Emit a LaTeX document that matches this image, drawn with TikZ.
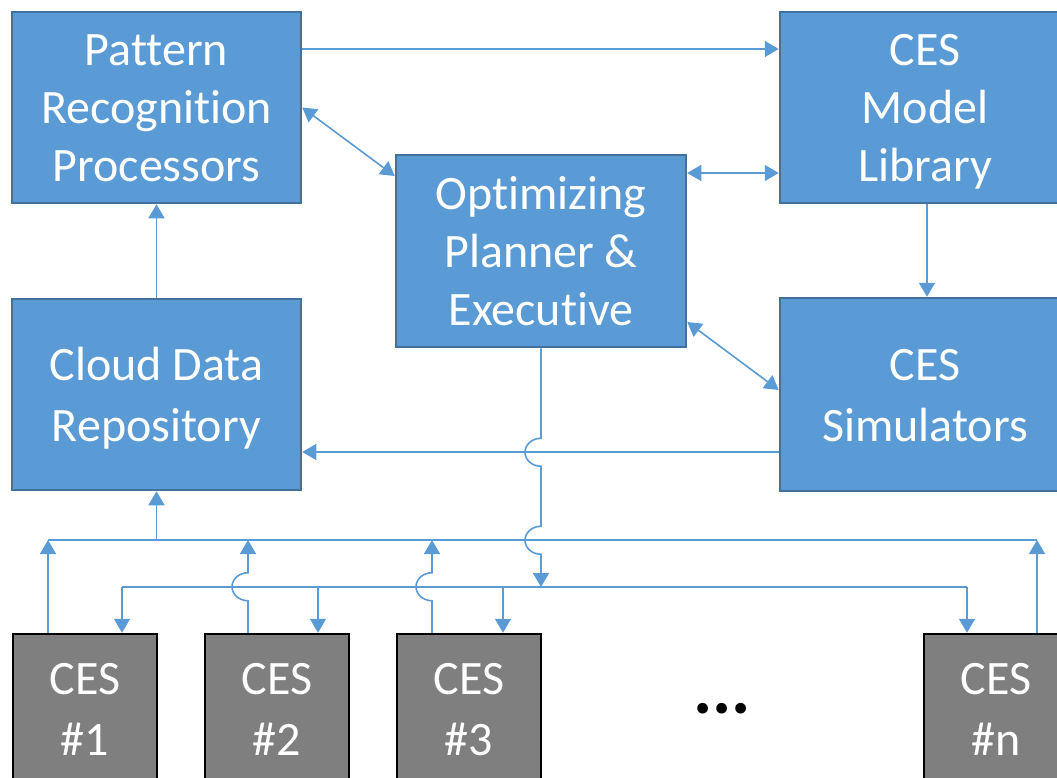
\documentclass[tikz,border=0pt]{standalone}
\usepackage{fontspec}
\setmainfont{Carlito}[Ligatures={NoCommon,NoContextual}]
\usetikzlibrary{arrows.meta}
\definecolor{boxblue}{HTML}{5B9BD5}
\definecolor{boxedge}{HTML}{41719C}
\definecolor{linkblue}{HTML}{5B9BD5}
\definecolor{cesgray}{HTML}{7F7F7F}
\newcommand\bxs{\vrule width 0pt height 46pt depth 14pt\relax}
\begin{document}
\begin{tikzpicture}[x=1pt,y=-1pt,
  bluebox/.style={draw=boxedge, line width=2.5pt, fill=boxblue, text=white, align=center,
    font=\fontsize{48}{58}\selectfont, minimum width=289pt, minimum height=191pt, inner sep=0pt},
  cesbox/.style={draw=black, line width=2.5pt, fill=cesgray, text=white, align=center,
    font=\fontsize{48}{58}\selectfont, minimum width=144pt, minimum height=150pt, inner sep=0pt},
  link/.style={draw=linkblue, line width=1.6pt},
  arr/.style={link, -{Triangle[width=16pt,length=14pt]}},
  darr/.style={link, {Triangle[width=16pt,length=14pt]}-{Triangle[width=16pt,length=14pt]}},
  hop/.style={x radius=16pt, y radius=14pt}
]
\useasboundingbox (0,0) rectangle (1057,778);
\clip (0,0) rectangle (1057,778);

% blue boxes
\node[bluebox] (pat) at (156.5,107.5) {\bxs Pattern\\Recognition\\Processors\bxs};
\node[bluebox, minimum width=290pt] (model) at (925,107.5) {\bxs CES\\Model\\Library\bxs};
\node[bluebox, minimum width=290pt, minimum height=192pt] (opt) at (541,251) {\bxs Optimizing\\Planner \&\\Executive\bxs};
\node[bluebox] (cloud) at (156.5,394.5) {\bxs Cloud Data\\Repository\bxs};
\node[bluebox, minimum width=290pt, minimum height=193pt] (sim) at (925,394.5) {\bxs CES\\Simulators\bxs};

% CES units
\node[cesbox] (c1) at (85,709) {\bxs CES\\\#1\bxs};
\node[cesbox] (c2) at (277,709) {\bxs CES\\\#2\bxs};
\node[cesbox] (c3) at (469,709) {\bxs CES\\\#3\bxs};
\node[cesbox] (cn) at (996,709) {\bxs CES\\\#n\bxs};
\node[font=\fontsize{72}{80}\selectfont\bfseries, inner sep=0pt] (dots) at (722,709) {...};

% bus coordinates
\coordinate (ubL) at (48,540);
\coordinate (ubR) at (1037,540);
\coordinate (lbL) at (122,587);
\coordinate (lbR) at (967,587);
\coordinate (c1u) at ([xshift=-37pt]c1.north);
\coordinate (c1d) at ([xshift=37pt]c1.north);
\coordinate (c2u) at ([xshift=-29pt]c2.north);
\coordinate (c2d) at ([xshift=41pt]c2.north);
\coordinate (c3u) at ([xshift=-37pt]c3.north);
\coordinate (c3d) at ([xshift=34pt]c3.north);
\coordinate (cnd) at ([xshift=-29pt]cn.north);
\coordinate (cnu) at ([xshift=41pt]cn.north);

% upper connectors
\draw[arr] ([yshift=58.5pt]pat.east) coordinate (t1) -- (model.west |- t1);
\draw[darr] (pat.east) -- ([yshift=75pt]opt.west);
\draw[darr] ([yshift=78pt]opt.east) coordinate (t2) -- (model.west |- t2);
\draw[arr] ([xshift=2pt]model.south) -- ([xshift=2pt]sim.north);
\draw[darr] ([yshift=-71pt]opt.east) -- ([yshift=4.5pt]sim.west);
\draw[arr] ([yshift=-57.5pt]sim.west) coordinate (s1) -- (cloud.east |- s1);
\draw[arr] (cloud.north) -- (pat.south);

% buses
\draw[link] (ubL) -- (ubR);
\draw[link] (lbL) -- (lbR);
\draw[arr] (ubL -| cloud.south) -- (cloud.south);

% planner down to lower bus with hops
\draw[arr] (opt.south) -- ++(0,90) arc[start angle=90, end angle=270, hop]
  -- ++(0,60) arc[start angle=90, end angle=270, hop] -- (opt.south |- lbL);

% up links from CES units
\draw[arr] (c1u) -- (ubL);
\draw[arr] (c2u) -- ++(0,-32) arc[start angle=270, end angle=90, hop] -- (c2u |- ubL);
\draw[arr] (c3u) -- ++(0,-32) arc[start angle=270, end angle=90, hop] -- (c3u |- ubL);
\draw[arr] (cnu) -- (ubR);

% down links to CES units
\draw[arr] (lbL) -- (c1d);
\draw[arr] (lbL -| c2d) -- (c2d);
\draw[arr] (lbL -| c3d) -- (c3d);
\draw[arr] (lbR) -- (cnd);
\end{tikzpicture}
\end{document}
